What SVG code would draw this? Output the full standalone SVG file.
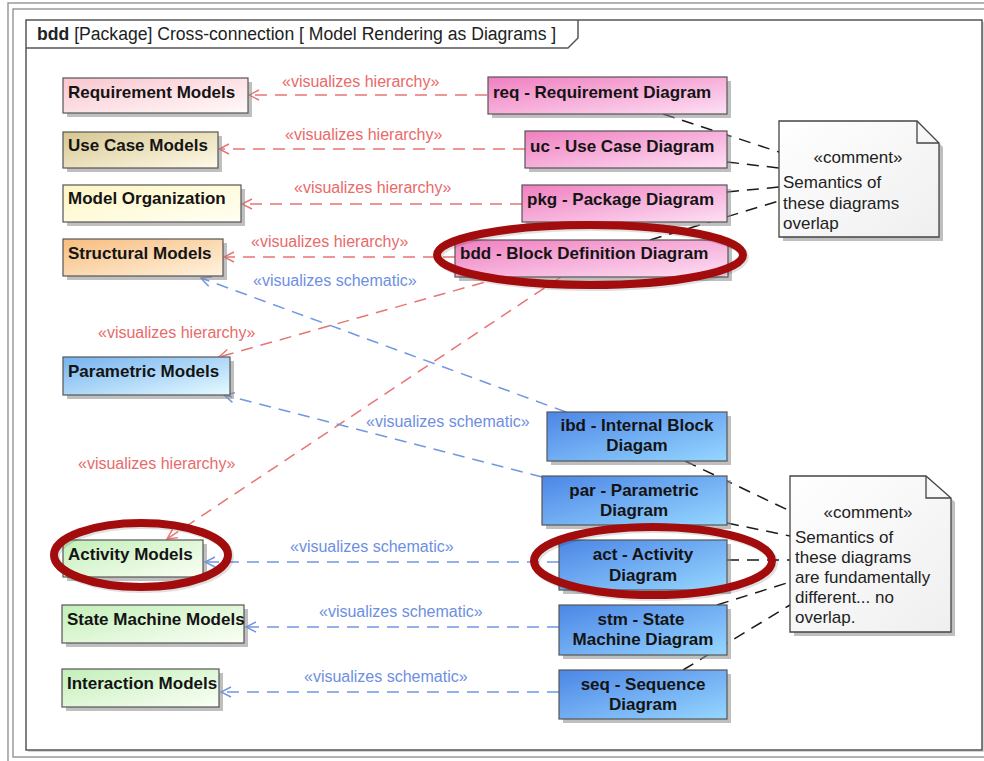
<svg xmlns="http://www.w3.org/2000/svg" width="984" height="761" viewBox="0 0 984 761">
<defs>
<linearGradient id="gPinkL" x1="0" y1="0" x2="1" y2="1"><stop offset="0" stop-color="#f9c6cf"/><stop offset="1" stop-color="#fffafa"/></linearGradient>
<linearGradient id="gTan" x1="0" y1="0" x2="1" y2="1"><stop offset="0" stop-color="#d6c690"/><stop offset="1" stop-color="#fffbea"/></linearGradient>
<linearGradient id="gYel" x1="0" y1="0" x2="1" y2="1"><stop offset="0" stop-color="#fff6c4"/><stop offset="1" stop-color="#fffff4"/></linearGradient>
<linearGradient id="gOra" x1="0" y1="0" x2="1" y2="1"><stop offset="0" stop-color="#f7bd7e"/><stop offset="1" stop-color="#fff3e0"/></linearGradient>
<linearGradient id="gBluL" x1="0" y1="0" x2="1" y2="1"><stop offset="0" stop-color="#74b2f0"/><stop offset="1" stop-color="#e6fbff"/></linearGradient>
<linearGradient id="gGrn" x1="0" y1="0" x2="1" y2="1"><stop offset="0" stop-color="#c2efb8"/><stop offset="1" stop-color="#fbfff6"/></linearGradient>
<linearGradient id="gPink" x1="0" y1="0" x2="1" y2="1"><stop offset="0" stop-color="#f07fc0"/><stop offset="1" stop-color="#fde0f4"/></linearGradient>
<linearGradient id="gBlue" x1="0" y1="0" x2="1" y2="1"><stop offset="0" stop-color="#4c86e6"/><stop offset="1" stop-color="#96d6ff"/></linearGradient>
<linearGradient id="gNote" x1="0" y1="0" x2="1" y2="1"><stop offset="0" stop-color="#ffffff"/><stop offset="1" stop-color="#efefef"/></linearGradient>
<marker id="aRed" viewBox="0 0 12 12" refX="11" refY="6" markerWidth="12" markerHeight="12" markerUnits="userSpaceOnUse" orient="auto"><path d="M1,1 L11,6 L1,11" fill="none" stroke="#e87474" stroke-width="1.5"/></marker>
<marker id="aBlue" viewBox="0 0 12 12" refX="11" refY="6" markerWidth="12" markerHeight="12" markerUnits="userSpaceOnUse" orient="auto"><path d="M1,1 L11,6 L1,11" fill="none" stroke="#7096e4" stroke-width="1.5"/></marker>
</defs>
<style>
.box{stroke:#555;stroke-width:1.2}
.sh{fill:#8a8a8a;opacity:0.55}
.t{font-family:"Liberation Sans",Arial,sans-serif;font-weight:bold;font-size:17px;fill:#141414}
.tc{font-family:"Liberation Sans",Arial,sans-serif;font-weight:bold;font-size:17px;fill:#141414;text-anchor:middle}
.n{font-family:"Liberation Sans",Arial,sans-serif;font-size:17px;fill:#222}
.nc{font-family:"Liberation Sans",Arial,sans-serif;font-size:17px;fill:#222;text-anchor:middle}
.lr{font-family:"Liberation Sans",Arial,sans-serif;font-size:16px;fill:#e86a6a}
.lb{font-family:"Liberation Sans",Arial,sans-serif;font-size:16px;fill:#6d8fe2}
.cr{fill:none;stroke:#e87474;stroke-width:1.5;stroke-dasharray:12 8;marker-end:url(#aRed)}
.cb{fill:none;stroke:#7096e4;stroke-width:1.5;stroke-dasharray:12 8;marker-end:url(#aBlue)}
.ck{fill:none;stroke:#1a1a1a;stroke-width:1.5;stroke-dasharray:12 8}
.ell{fill:none;stroke:#a30c0c;stroke-width:8}
</style>
<rect width="984" height="761" fill="#ffffff"/>
<!-- outer double border -->
<rect x="8" y="3" width="990" height="765" fill="none" stroke="#9a9a9a" stroke-width="1.5"/>
<rect x="13" y="9" width="990" height="748" fill="none" stroke="#9a9a9a" stroke-width="1.5"/>
<!-- frame -->
<g id="frame">
<rect x="28" y="22" width="956" height="730" fill="#bbbbbb" opacity="0.6"/>
<rect x="26" y="20" width="956" height="730" fill="#ffffff" stroke="#555" stroke-width="1.5"/>
<path d="M26,48 L568,48 L578,38 L578,20" fill="none" stroke="#555" stroke-width="1.5"/>
<text x="37" y="40" font-family="Liberation Sans, Arial, sans-serif" font-size="17.6px" fill="#222"><tspan font-weight="bold">bdd</tspan> [Package] Cross-connection [ Model Rendering as Diagrams ]</text>
</g>
<!-- connectors -->
<g id="connectors">
<path class="cr" d="M487,95 L249,95"/>
<path class="cr" d="M525,149 L219,149"/>
<path class="cr" d="M522,204 L242,204"/>
<path class="cr" d="M455,257 L224,257"/>
<path class="cr" d="M503,277 L219,357"/>
<path class="cr" d="M561,277 L167,539"/>
<path class="cb" d="M566,412 L201,278"/>
<path class="cb" d="M542,477 L224,395"/>
<path class="cb" d="M559,562 L205,562"/>
<path class="cb" d="M559,627 L246,627"/>
<path class="cb" d="M559,692 L221,692"/>
<path class="ck" d="M663,114 L779,152"/>
<path class="ck" d="M727,162 L779,168"/>
<path class="ck" d="M727,192 L779,187"/>
<path class="ck" d="M650,240 L779,201"/>
<path class="ck" d="M685,461 L790,511"/>
<path class="ck" d="M727,523 L790,536"/>
<path class="ck" d="M727,560 L790,560"/>
<path class="ck" d="M717,605 L790,582"/>
<path class="ck" d="M683,670 L790,605"/>
<text class="lr" x="282" y="87">«visualizes hierarchy»</text>
<text class="lr" x="285" y="140">«visualizes hierarchy»</text>
<text class="lr" x="294" y="193">«visualizes hierarchy»</text>
<text class="lr" x="251" y="247">«visualizes hierarchy»</text>
<text class="lr" x="98" y="338">«visualizes hierarchy»</text>
<text class="lr" x="78" y="469">«visualizes hierarchy»</text>
<text class="lb" x="253" y="286">«visualizes schematic»</text>
<text class="lb" x="366" y="427">«visualizes schematic»</text>
<text class="lb" x="290" y="552">«visualizes schematic»</text>
<text class="lb" x="319" y="617">«visualizes schematic»</text>
<text class="lb" x="304" y="682">«visualizes schematic»</text>
</g>
<!-- left nodes -->
<g id="requirement-models"><rect class="sh" x="67" y="82" width="185" height="35"/><rect class="box" x="63" y="78" width="185" height="35" fill="url(#gPinkL)"/><text class="t" x="68" y="98">Requirement Models</text></g>
<g id="use-case-models"><rect class="sh" x="67" y="136" width="155" height="36"/><rect class="box" x="63" y="132" width="155" height="36" fill="url(#gTan)"/><text class="t" x="68" y="151">Use Case Models</text></g>
<g id="model-organization"><rect class="sh" x="67" y="189" width="178" height="37"/><rect class="box" x="63" y="185" width="178" height="37" fill="url(#gYel)"/><text class="t" x="68" y="204">Model Organization</text></g>
<g id="structural-models"><rect class="sh" x="67" y="243" width="160" height="37"/><rect class="box" x="63" y="239" width="160" height="37" fill="url(#gOra)"/><text class="t" x="68" y="259">Structural Models</text></g>
<g id="parametric-models"><rect class="sh" x="67" y="361" width="167" height="38"/><rect class="box" x="63" y="357" width="167" height="38" fill="url(#gBluL)"/><text class="t" x="68" y="377">Parametric Models</text></g>
<g id="activity-models"><rect class="sh" x="67" y="544" width="140" height="37"/><rect class="box" x="63" y="540" width="140" height="37" fill="url(#gGrn)"/><text class="t" x="68" y="560">Activity Models</text></g>
<g id="state-machine-models"><rect class="sh" x="66" y="609" width="182" height="38"/><rect class="box" x="62" y="605" width="182" height="38" fill="url(#gGrn)"/><text class="t" x="67" y="625">State Machine Models</text></g>
<g id="interaction-models"><rect class="sh" x="66" y="673" width="157" height="38"/><rect class="box" x="62" y="669" width="157" height="38" fill="url(#gGrn)"/><text class="t" x="67" y="689">Interaction Models</text></g>
<!-- right top nodes -->
<g id="req-diagram"><rect class="sh" x="492" y="81" width="239" height="37"/><rect class="box" x="488" y="77" width="239" height="37" fill="url(#gPink)"/><text class="t" x="493" y="98">req - Requirement Diagram</text></g>
<g id="uc-diagram"><rect class="sh" x="529" y="135" width="202" height="37"/><rect class="box" x="525" y="131" width="202" height="37" fill="url(#gPink)"/><text class="t" x="530" y="152">uc - Use Case Diagram</text></g>
<g id="pkg-diagram"><rect class="sh" x="526" y="189" width="205" height="37"/><rect class="box" x="522" y="185" width="205" height="37" fill="url(#gPink)"/><text class="t" x="527" y="205">pkg - Package Diagram</text></g>
<g id="bdd-diagram"><rect class="sh" x="459" y="244" width="273" height="37"/><rect class="box" x="455" y="240" width="273" height="37" fill="url(#gPink)"/><text class="t" x="460" y="259">bdd - Block Definition Diagram</text></g>
<!-- comment 1 -->
<g id="comment-1">
<path class="sh" d="M783,125 L921,125 L943,147 L943,241 L783,241 Z"/>
<path d="M779,121 L917,121 L939,143 L939,237 L779,237 Z" fill="url(#gNote)" stroke="#444" stroke-width="1.3"/>
<path d="M917,121 L917,143 L939,143" fill="none" stroke="#444" stroke-width="1.3"/>
<text class="nc" x="858" y="163">«comment»</text>
<text class="n" x="783" y="188">Semantics of</text>
<text class="n" x="783" y="209">these diagrams</text>
<text class="n" x="783" y="229">overlap</text>
</g>
<!-- right bottom nodes -->
<g id="ibd-diagram"><rect class="sh" x="551" y="416" width="180" height="49"/><rect class="box" x="547" y="412" width="180" height="49" fill="url(#gBlue)"/><text class="tc" x="637" y="431">ibd - Internal Block</text><text class="tc" x="637" y="451">Diagam</text></g>
<g id="par-diagram"><rect class="sh" x="546" y="480" width="185" height="49"/><rect class="box" x="542" y="476" width="185" height="49" fill="url(#gBlue)"/><text class="tc" x="634" y="496">par - Parametric</text><text class="tc" x="634" y="516">Diagram</text></g>
<g id="act-diagram"><rect class="sh" x="563" y="544" width="168" height="50"/><rect class="box" x="559" y="540" width="168" height="50" fill="url(#gBlue)"/><text class="tc" x="643" y="560">act - Activity</text><text class="tc" x="643" y="581">Diagram</text></g>
<g id="stm-diagram"><rect class="sh" x="563" y="609" width="168" height="50"/><rect class="box" x="559" y="605" width="168" height="50" fill="url(#gBlue)"/><text class="tc" x="641" y="625">stm - State</text><text class="tc" x="643" y="645">Machine Diagram</text></g>
<g id="seq-diagram"><rect class="sh" x="563" y="674" width="168" height="49"/><rect class="box" x="559" y="670" width="168" height="49" fill="url(#gBlue)"/><text class="tc" x="643" y="690">seq - Sequence</text><text class="tc" x="643" y="710">Diagram</text></g>
<!-- comment 2 -->
<g id="comment-2">
<path class="sh" d="M794,480 L930,480 L955,502 L955,636 L794,636 Z"/>
<path d="M790,476 L926,476 L951,498 L951,632 L790,632 Z" fill="url(#gNote)" stroke="#444" stroke-width="1.3"/>
<path d="M926,476 L926,498 L951,498" fill="none" stroke="#444" stroke-width="1.3"/>
<text class="nc" x="868" y="518">«comment»</text>
<text class="n" x="795" y="543">Semantics of</text>
<text class="n" x="795" y="563">these diagrams</text>
<text class="n" x="795" y="583">are fundamentally</text>
<text class="n" x="795" y="603">different... no</text>
<text class="n" x="795" y="623">overlap.</text>
</g>
<!-- highlight ellipses -->
<g id="highlights">
<ellipse cx="592" cy="257" rx="153" ry="30" fill="none" stroke="#000" stroke-width="8" opacity="0.12"/>
<ellipse cx="590" cy="255" rx="153" ry="30" class="ell"/>
<ellipse cx="655" cy="563" rx="119" ry="34" fill="none" stroke="#000" stroke-width="8" opacity="0.12"/>
<ellipse cx="653" cy="561" rx="119" ry="34" class="ell"/>
<ellipse cx="143" cy="557" rx="87" ry="32" fill="none" stroke="#000" stroke-width="8" opacity="0.12"/>
<ellipse cx="141" cy="555" rx="87" ry="32" class="ell"/>
</g>
</svg>
